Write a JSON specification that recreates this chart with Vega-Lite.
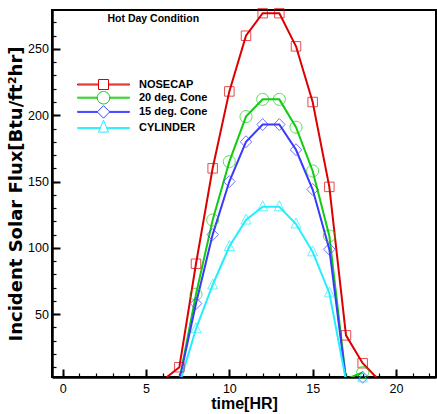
{
  "$schema": "https://vega.github.io/schema/vega-lite/v6.json",
  "width": 384,
  "height": 367,
  "autosize": "none",
  "padding": {"left": 52, "top": 10, "right": 1, "bottom": 37},
  "background": "white",
  "title": {"text": "Hot Day Condition", "anchor": "start", "frame": "group", "orient": "top", "offset": 0, "dx": 55.5, "dy": 26, "baseline": "alphabetic", "fontSize": 10.5, "font": "Liberation Sans", "fontWeight": "bold", "color": "black"},
  "config": {
    "view": {"stroke": "black", "strokeWidth": 2},
    "axis": {"grid": false, "domainColor": "black", "domainWidth": 2.5, "tickColor": "black", "labelColor": "black", "titleColor": "black", "labelFont": "Liberation Sans", "labelFontSize": 12.5, "labelFlush": false, "labelOverlap": false}
  },
  "resolve": {"axis": {"x": "independent", "y": "independent"}},
  "data": {"values": [
    {"series": "NOSECAP", "x": 6, "flux": 0},
    {"series": "NOSECAP", "x": 7, "flux": 10},
    {"series": "NOSECAP", "x": 8, "flux": 88},
    {"series": "NOSECAP", "x": 9, "flux": 160},
    {"series": "NOSECAP", "x": 10, "flux": 218},
    {"series": "NOSECAP", "x": 11, "flux": 260},
    {"series": "NOSECAP", "x": 12, "flux": 277},
    {"series": "NOSECAP", "x": 13, "flux": 277},
    {"series": "NOSECAP", "x": 14, "flux": 252},
    {"series": "NOSECAP", "x": 15, "flux": 210},
    {"series": "NOSECAP", "x": 16, "flux": 146},
    {"series": "NOSECAP", "x": 17, "flux": 34},
    {"series": "NOSECAP", "x": 18, "flux": 13},
    {"series": "NOSECAP", "x": 19, "flux": 0},
    {"series": "20 deg. Cone", "x": 7, "flux": 0},
    {"series": "20 deg. Cone", "x": 8, "flux": 65},
    {"series": "20 deg. Cone", "x": 9, "flux": 121},
    {"series": "20 deg. Cone", "x": 10, "flux": 165},
    {"series": "20 deg. Cone", "x": 11, "flux": 199},
    {"series": "20 deg. Cone", "x": 12, "flux": 212},
    {"series": "20 deg. Cone", "x": 13, "flux": 212},
    {"series": "20 deg. Cone", "x": 14, "flux": 191},
    {"series": "20 deg. Cone", "x": 15, "flux": 158},
    {"series": "20 deg. Cone", "x": 16, "flux": 109},
    {"series": "20 deg. Cone", "x": 17, "flux": 1},
    {"series": "20 deg. Cone", "x": 18, "flux": 6},
    {"series": "15 deg. Cone", "x": 7, "flux": 0},
    {"series": "15 deg. Cone", "x": 8, "flux": 58},
    {"series": "15 deg. Cone", "x": 9, "flux": 110},
    {"series": "15 deg. Cone", "x": 10, "flux": 150},
    {"series": "15 deg. Cone", "x": 11, "flux": 180},
    {"series": "15 deg. Cone", "x": 12, "flux": 193},
    {"series": "15 deg. Cone", "x": 13, "flux": 193},
    {"series": "15 deg. Cone", "x": 14, "flux": 174},
    {"series": "15 deg. Cone", "x": 15, "flux": 144},
    {"series": "15 deg. Cone", "x": 16, "flux": 99},
    {"series": "15 deg. Cone", "x": 17, "flux": 0},
    {"series": "15 deg. Cone", "x": 18, "flux": 2.4},
    {"series": "CYLINDER", "x": 7, "flux": -3},
    {"series": "CYLINDER", "x": 8, "flux": 39},
    {"series": "CYLINDER", "x": 9, "flux": 72},
    {"series": "CYLINDER", "x": 10, "flux": 101},
    {"series": "CYLINDER", "x": 11, "flux": 121},
    {"series": "CYLINDER", "x": 12, "flux": 131},
    {"series": "CYLINDER", "x": 13, "flux": 131},
    {"series": "CYLINDER", "x": 14, "flux": 118},
    {"series": "CYLINDER", "x": 15, "flux": 97},
    {"series": "CYLINDER", "x": 16, "flux": 66},
    {"series": "CYLINDER", "x": 17, "flux": 0},
    {"series": "CYLINDER", "x": 18, "flux": 2}
  ]},
  "layer": [
    {
      "mark": {"type": "line", "strokeWidth": 2, "clip": true},
      "encoding": {
        "x": {"field": "x", "type": "quantitative", "scale": {"domain": [-0.64, 22.4], "nice": false, "zero": false},
          "axis": {"orient": "bottom", "values": [0, 5, 10, 15, 20], "tickSize": -8, "tickWidth": 2, "labelPadding": 13.5,
            "title": "time[HR]", "titleFont": "Liberation Sans", "titleFontSize": 16, "titleFontWeight": "bold", "titlePadding": 0}},
        "y": {"field": "flux", "type": "quantitative", "scale": {"domain": [2.6, 279.4], "nice": false, "zero": false},
          "axis": {"orient": "left", "values": [50, 100, 150, 200, 250], "tickSize": -8, "tickWidth": 2, "labelPadding": 11.6,
            "title": "Incident Solar Flux[Btu/ft²hr]", "titleFont": "DejaVu Sans", "titleFontSize": 18, "titleFontWeight": "bold", "titlePadding": 2}},
        "color": {"field": "series", "type": "nominal",
          "scale": {"domain": ["NOSECAP", "20 deg. Cone", "15 deg. Cone", "CYLINDER"], "range": ["#dd0000", "#11cc11", "#3a3aff", "#22eeff"]},
          "legend": {"orient": "none", "legendX": 46, "legendY": 69, "title": null, "padding": 0, "symbolSize": 100, "symbolStrokeWidth": 1,
            "labelFont": "Liberation Sans", "labelFontSize": 11, "labelFontWeight": "bold", "labelColor": "black", "labelOffset": 30, "rowPadding": -2.8,
            "encode": {"symbols": {"update": {
              "fill": {"value": "transparent"},
              "strokeWidth": {"value": 1},
              "shape": {"signal": "datum.value === 'NOSECAP' ? 'M-5.2,-0.1H-1V0.1H-5.2Z M1,-0.1H5.2V0.1H1Z M-1,-1H1V1H-1Z' : datum.value === '20 deg. Cone' ? 'M-5.2,-0.1H-1.25V0.1H-5.2Z M1.25,-0.1H5.2V0.1H1.25Z M1.25,0A1.25,1.25,0,1,1,-1.25,0A1.25,1.25,0,1,1,1.25,0Z' : datum.value === '15 deg. Cone' ? 'M-5.2,-0.1H-1.25V0.1H-5.2Z M1.25,-0.1H5.2V0.1H1.25Z M0,-1.25L1.25,0L0,1.25L-1.25,0Z' : 'M-5.2,-0.1H-0.67V0.1H-5.2Z M0.67,-0.1H5.2V0.1H0.67Z M0,-1.6L1,0.8L-1,0.8Z'"}
            }}}}},
        "order": {"field": "x", "type": "quantitative"}
      }
    },
    {
      "transform": [{"filter": "datum.flux >= 2 && datum.series === 'NOSECAP'"}],
      "mark": {"type": "point", "filled": false, "size": 100, "strokeWidth": 1, "clip": false, "shape": "M-0.95,-0.95H0.95V0.95H-0.95Z"},
      "encoding": {
        "x": {"field": "x", "type": "quantitative",
          "axis": {"orient": "bottom", "values": [0,1,2,3,4,5,6,7,8,9,10,11,12,13,14,15,16,17,18,19,20,21,22], "tickSize": -4, "tickWidth": 1.2, "labels": false, "domain": false, "title": null}},
        "y": {"field": "flux", "type": "quantitative",
          "axis": {"orient": "left", "values": [10,20,30,40,50,60,70,80,90,100,110,120,130,140,150,160,170,180,190,200,210,220,230,240,250,260,270], "tickSize": -4, "tickWidth": 1.2, "labels": false, "domain": false, "title": null}},
        "color": {"field": "series", "type": "nominal", "legend": null}
      }
    },
    {
      "transform": [{"filter": "datum.flux >= 2 && datum.series === '20 deg. Cone'"}],
      "mark": {"type": "point", "filled": false, "size": 100, "strokeWidth": 1, "clip": false, "shape": "M1.2,0A1.2,1.2,0,1,1,-1.2,0A1.2,1.2,0,1,1,1.2,0Z"},
      "encoding": {
        "x": {"field": "x", "type": "quantitative", "axis": null},
        "y": {"field": "flux", "type": "quantitative", "axis": null},
        "color": {"field": "series", "type": "nominal", "legend": null}
      }
    },
    {
      "transform": [{"filter": "datum.flux >= 2 && datum.series === '15 deg. Cone'"}],
      "mark": {"type": "point", "filled": false, "size": 100, "strokeWidth": 1, "clip": false, "shape": "M0,-1.2L1.15,0L0,1.2L-1.15,0Z"},
      "encoding": {
        "x": {"field": "x", "type": "quantitative", "axis": null},
        "y": {"field": "flux", "type": "quantitative", "axis": null},
        "color": {"field": "series", "type": "nominal", "legend": null}
      }
    },
    {
      "transform": [{"filter": "datum.flux >= 2 && datum.series === 'CYLINDER'"}],
      "mark": {"type": "point", "filled": false, "size": 100, "strokeWidth": 1, "clip": false, "shape": "M0,-1.2L1,0.8L-1,0.8Z"},
      "encoding": {
        "x": {"field": "x", "type": "quantitative", "axis": null},
        "y": {"field": "flux", "type": "quantitative", "axis": null},
        "color": {"field": "series", "type": "nominal", "legend": null}
      }
    }
  ]
}
